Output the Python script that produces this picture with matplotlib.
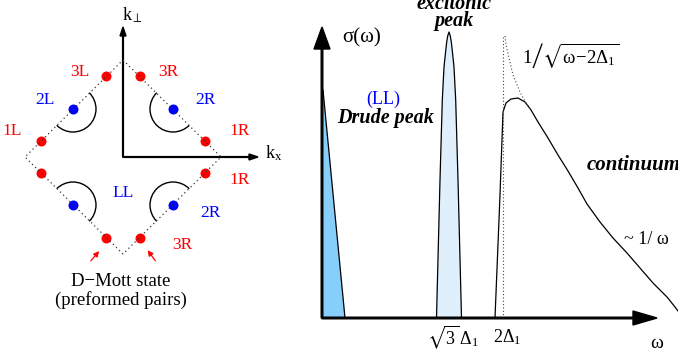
import matplotlib
matplotlib.use('Agg')
import matplotlib.pyplot as plt
import numpy as np
from matplotlib.patches import Arc, Polygon

plt.rcParams['font.family'] = ['Liberation Serif', 'DejaVu Serif']
plt.rcParams['mathtext.fontset'] = 'custom'
plt.rcParams['mathtext.rm'] = 'Liberation Serif'
plt.rcParams['mathtext.it'] = 'Liberation Serif:italic'
plt.rcParams['mathtext.bf'] = 'Liberation Serif:bold'
plt.rcParams['mathtext.fallback'] = 'stix'

# --- left panel: k-space (units = px from origin, y up) ---
diamond_x = [0, 98, 0, -98, 0]
diamond_y = [97, 0, -97, 0, 97]

red_x = [-17, 17, -82, 82, -82, 82, -17, 17]
red_y = [81, 81, 16, 16, -16, -16, -81, -81]
blue_x = [-50, 50, -50, 50]
blue_y = [48, 48, -48, -48]
arc_from = [-135, 135, -45, 45]
arc_to = [45, 315, 135, 225]

red_labels = ['3L', '3R', '1L', '1R', '1R', '3R']
red_lx = [-43, 45, -111, 117, 117, 59]
red_ly = [85, 85, 26, 26, -23, -88]
blue_labels = ['2L', '2R', 'LL', '2R']
blue_lx = [-78, 82, 0, 87]
blue_ly = [57, 57, -36, -56]

# --- right panel: sigma(omega) (units = px from origin) ---
drude_w = [0, 1, 23]
drude_s = [0, 228, 0]

exc_center = 127
exc_h = [0, 138, 218, 251, 268, 276, 282, 286]
exc_hw = [12.5, 9, 6.7, 5, 3.2, 2.3, 1.3, 0]

cont_w = [173, 178, 181, 184, 189, 196, 203, 209, 216, 226, 236, 246, 256,
          265, 278, 291, 305, 318, 331, 345, 353, 356]
cont_s = [0, 123, 206, 215, 219, 220, 216, 208, 196, 180, 163, 147, 130,
          114, 96, 80, 65, 50, 35, 21, 11, 7]

asym_w = [183, 184, 191, 198, 204, 209]
asym_s = [282, 273, 243, 226, 215, 208]
gap_w = 181

fig = plt.figure(figsize=(6.78, 3.58), dpi=100)

# left
ax1 = fig.add_axes([0, 0, 1, 1])
ax1.set_xlim(-123, 678 - 123)
ax1.set_ylim(157 - 358, 157)
ax1.axis('off')

ax1.plot(diamond_x, diamond_y, color='#333333', lw=0.9, ls=(0, (1, 2.5)), zorder=3)
ax1.plot(red_x, red_y, 'o', color='#ff0000', ms=7.2, mec='none', zorder=2)
ax1.plot(blue_x, blue_y, 'o', color='#0000ff', ms=7.2, mec='none', zorder=2)
for bx, by, t1, t2 in zip(blue_x, blue_y, arc_from, arc_to):
    ax1.add_patch(Arc((bx, by), 46, 46, theta1=t1, theta2=t2, color='black', lw=1.0))

ax1.arrow(0, 0, 0, 130, width=0.8, head_width=6, head_length=9,
          length_includes_head=True, fc='black', ec='black')
ax1.arrow(0, 0, 135, 0, width=0.8, head_width=6, head_length=9,
          length_includes_head=True, fc='black', ec='black')
ax1.text(10, 142, r'$\mathrm{k}_{\perp}$', fontsize=13, ha='center', va='center')
ax1.text(151, 4, r'$\mathrm{k_x}$', fontsize=13, ha='center', va='center')

for lab, lx, ly in zip(red_labels, red_lx, red_ly):
    ax1.text(lx, ly, lab, color='#ff0000', fontsize=12.5, ha='center', va='center')
for lab, lx, ly in zip(blue_labels, blue_lx, blue_ly):
    ax1.text(lx, ly, lab, color='#0000ff', fontsize=12.5, ha='center', va='center')

ax1.annotate('', xy=(-22, -92), xytext=(-34, -106),
             arrowprops=dict(arrowstyle='-|>', color='red', lw=0.9, mutation_scale=8))
ax1.annotate('', xy=(23, -91), xytext=(34, -106),
             arrowprops=dict(arrowstyle='-|>', color='red', lw=0.9, mutation_scale=8))
ax1.text(-2, -124, 'D\u2212Mott state', fontsize=13.5, ha='center', va='center')
ax1.text(-2, -143, '(preformed pairs)', fontsize=13.5, ha='center', va='center')

# right
ax2 = fig.add_axes([0, 0, 1, 1])
ax2.set_xlim(-322, 678 - 322)
ax2.set_ylim(318 - 358, 318)
ax2.axis('off')
ax2.patch.set_alpha(0)

ax2.fill(drude_w, drude_s, color='#87cefa', ec='none')
ax2.plot(drude_w[1:], drude_s[1:], color='black', lw=0.9)

exc_x = np.concatenate([exc_center - np.array(exc_hw), exc_center + np.array(exc_hw[::-1])])
exc_y = np.concatenate([exc_h, exc_h[::-1]])
ax2.add_patch(Polygon(np.column_stack([exc_x, exc_y]), closed=False,
                      fc='#dff0fc', ec='black', lw=0.9, joinstyle='round'))

ax2.plot(cont_w, cont_s, color='black', lw=0.9, solid_joinstyle='round')
ax2.plot(asym_w, asym_s, color='#444444', lw=0.8, ls=(0, (1, 2)))
ax2.plot([gap_w, gap_w], [0, 283], color='#444444', lw=0.8, ls=(0, (1, 2)))

ax2.arrow(0, 0, 0, 291, width=1.6, head_width=16, head_length=22,
          length_includes_head=True, fc='black', ec='black', zorder=5)
ax2.arrow(0, 0, 335, 0, width=1.6, head_width=14, head_length=24,
          length_includes_head=True, fc='black', ec='black', zorder=5)

ax2.text(20, 280, '\u03c3(\u03c9)', fontsize=15, ha='left', va='center')
ax2.text(335, -25, '\u03c9', fontsize=14, ha='center', va='center')
ax2.text(132, 314, 'excitonic', fontsize=14.5, weight='bold', style='italic',
         ha='center', va='center')
ax2.text(132, 297, 'peak', fontsize=14.5, weight='bold', style='italic',
         ha='center', va='center')
ax2.text(61, 219, '(LL)', color='#0000ff', fontsize=13, ha='center', va='center')
ax2.text(64, 200, 'Drude peak', fontsize=14.5, weight='bold', style='italic',
         ha='center', va='center')
ax2.text(265, 153, 'continuum', fontsize=15, weight='bold', style='italic',
         ha='left', va='center')
ax2.text(324, 78, '~ 1/ \u03c9', fontsize=13, ha='center', va='center')
ax2.text(200, 262, r'$\mathrm{1\left/\sqrt{\omega\!-\!2\Delta_1}\right.}$', fontsize=13.5,
         ha='left', va='center')
ax2.text(131, -19, r'$\mathrm{\sqrt{3}\,\Delta_1}$', fontsize=13, ha='center', va='center')
ax2.text(185, -19, r'$\mathrm{2\Delta_1}$', fontsize=13, ha='center', va='center')

fig.savefig('out.png', dpi=100)
